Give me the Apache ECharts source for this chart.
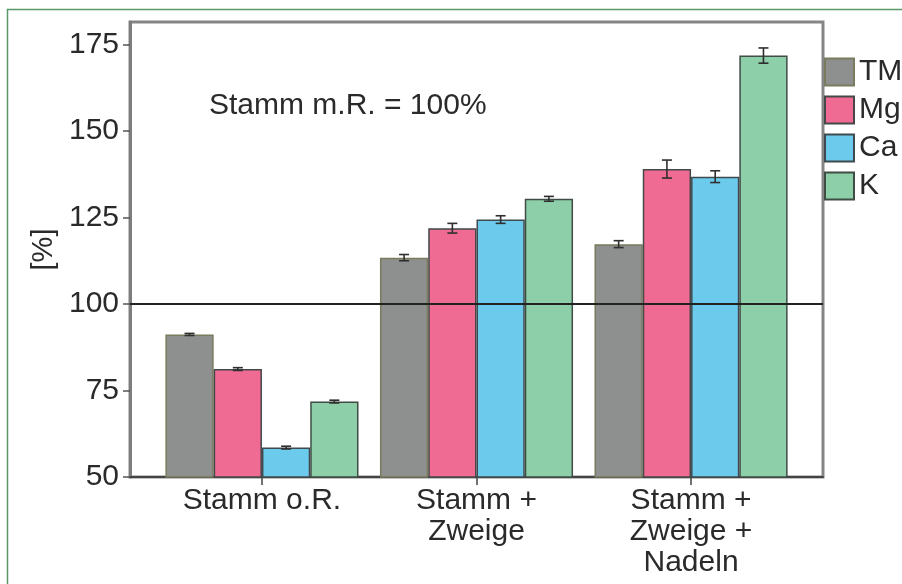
<!DOCTYPE html>
<html><head><meta charset="utf-8">
<script src="https://cdn.jsdelivr.net/npm/echarts@6/dist/echarts.min.js"></script>
<style>html,body{margin:0;padding:0;background:#fff}#c{width:902px;height:584px}</style>
</head><body><div id="c"></div>
<script>
// ---- data ----
const categories = ['Stamm o.R.', 'Stamm +\nZweige', 'Stamm +\nZweige +\nNadeln'];
const seriesNames = ['TM', 'Mg', 'Ca', 'K'];
const TM = [91.2, 113.4, 117.3];
const Mg = [81.2, 121.9, 139.0];
const Ca = [58.5, 124.4, 136.8];
const K  = [71.8, 130.4, 171.8];
const TM_err = [0.3, 0.9, 1.0];
const Mg_err = [0.4, 1.4, 2.6];
const Ca_err = [0.4, 1.1, 1.7];
const K_err  = [0.4, 0.7, 2.2];
const yTicks = [50, 75, 100, 125, 150, 175];
const referenceValue = 100;
const annotation = 'Stamm m.R. = 100%';
const yName = '[%]';

// ---- styling ----
const FONT = '"Liberation Sans", Arial, sans-serif';
const TXT = '#2a2a2a';
const colors = ['#8e8f8f', '#f06b93', '#6ccbed', '#8dcfa9'];
const borders = ['#7a7a5c', '#444848', '#3f4a4e', '#3f4d45'];
const GROUP_FRAC = 0.9;

const values = [TM, Mg, Ca, K];
const errs = [TM_err, Mg_err, Ca_err, K_err];
const catIdx = categories.map((c, i) => i);

const barSeries = seriesNames.map((name, s) => ({
  name: name,
  type: 'bar',
  data: values[s].map((v, i) => [i, v]),
  barGap: '0%',
  barCategoryGap: ((1 - GROUP_FRAC) * 100) + '%',
  itemStyle: { color: colors[s], borderColor: borders[s], borderWidth: 1.5 },
  z: 2
}));

barSeries[3].markLine = {
  silent: true,
  symbol: 'none',
  label: { show: false },
  lineStyle: { color: '#222', width: 2, type: 'solid' },
  data: [{ yAxis: referenceValue }],
  animation: false
};

const errData = [];
seriesNames.forEach((n, s) => values[s].forEach((v, i) => errData.push([i, s, v, errs[s][i]])));

function renderErr(params, api) {
  const cat = api.value(0), si = api.value(1), v = api.value(2), e = api.value(3);
  const unit = api.size([1, 0])[0];
  const bw = unit * GROUP_FRAC / seriesNames.length;
  const off = (si - (seriesNames.length - 1) / 2) * bw;
  const top = api.coord([cat, v + e]);
  const bot = api.coord([cat, v - e]);
  const x = top[0] + off;
  const cap = 5;
  const st = { stroke: '#2f2f2f', lineWidth: 1.6 };
  return { type: 'group', children: [
    { type: 'line', shape: { x1: x, y1: top[1], x2: x, y2: bot[1] }, style: st },
    { type: 'line', shape: { x1: x - cap, y1: top[1], x2: x + cap, y2: top[1] }, style: st },
    { type: 'line', shape: { x1: x - cap, y1: bot[1], x2: x + cap, y2: bot[1] }, style: st }
  ]};
}

const chart = echarts.init(document.getElementById('c'), null, { renderer: 'canvas' });
chart.setOption({
  animation: false,
  backgroundColor: '#fff',
  textStyle: { fontFamily: FONT },
  title: {
    text: annotation,
    left: 209, top: 91, padding: 0,
    textStyle: { fontFamily: FONT, fontSize: 30, fontWeight: 'normal', color: TXT }
  },
  graphic: [{
    type: 'rect', left: 5, top: 7, silent: true,
    shape: { width: 1000, height: 1000 },
    style: { fill: 'none', stroke: '#5b9868', lineWidth: 1.5 }
  }],
  legend: {
    orient: 'vertical', left: 824, top: 57, padding: 0,
    itemWidth: 29, itemHeight: 27, itemGap: 8,
    selectedMode: false,
    icon: 'rect',
    data: seriesNames,
    textStyle: { fontFamily: FONT, fontSize: 30, color: TXT, lineHeight: 27, padding: 0 }
  },
  grid: {
    left: 130, right: 79, top: 22, bottom: 107,
    show: true, borderColor: '#858585', borderWidth: 3, backgroundColor: 'transparent',
    containLabel: false, outerBoundsMode: 'none'
  },
  xAxis: {
    type: 'value', min: -0.615, max: 2.615,
    splitLine: { show: false },
    axisLine: { show: true, onZero: false, lineStyle: { color: '#444', width: 2 } },
    axisTick: { show: true, length: 8, customValues: catIdx, lineStyle: { color: '#444', width: 1.5 } },
    axisLabel: {
      customValues: catIdx,
      formatter: v => categories[Math.round(v)],
      fontFamily: FONT, fontSize: 30, color: TXT, lineHeight: 31, margin: 8, align: 'center'
    }
  },
  yAxis: {
    type: 'value', min: 50, max: 181.5,
    name: yName, nameLocation: 'middle', nameGap: 72, nameRotate: 90,
    nameTextStyle: { fontFamily: FONT, fontSize: 29, color: TXT },
    splitLine: { show: false },
    axisLine: { show: true, onZero: false, lineStyle: { color: '#7d7d7d', width: 3 } },
    axisTick: { show: true, length: 7, customValues: yTicks, lineStyle: { color: '#555', width: 1.5 } },
    axisLabel: { customValues: yTicks, fontFamily: FONT, fontSize: 30, color: TXT, margin: 11 }
  },
  series: barSeries.concat([{
    type: 'custom',
    name: 'err',
    renderItem: renderErr,
    data: errData,
    encode: { x: 0, y: 2 },
    z: 5,
    silent: true
  }])
});
</script>
</body></html>
